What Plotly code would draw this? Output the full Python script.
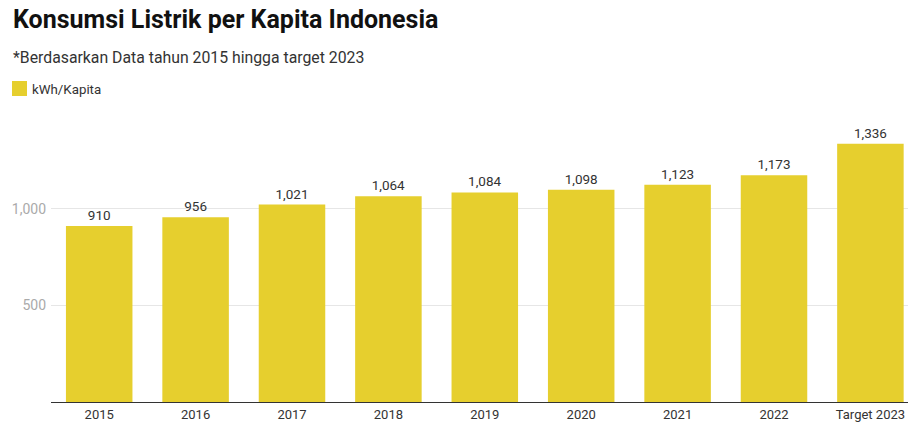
import plotly.graph_objects as go

categories = ["2015", "2016", "2017", "2018", "2019", "2020", "2021", "2022", "Target 2023"]
values = [910, 956, 1021, 1064, 1084, 1098, 1123, 1173, 1336]
series_name = "kWh/Kapita"
title = "Konsumsi Listrik per Kapita Indonesia"
subtitle = "*Berdasarkan Data tahun 2015 hingga target 2023"

W, H = 908, 423
ML, MR, MT, MB = 51, 0, 110, 21
PW, PH = W - ML - MR, H - MT - MB

def px(x):
    return (x - ML) / PW

def py(y):
    return (H - MB - y) / PH

color = "#e6cf2e"

fig = go.Figure()
fig.add_trace(go.Bar(
    x=categories, y=values, name=series_name,
    marker=dict(color=color, line=dict(width=0)),
    text=[f"{v:,}" for v in values], textposition="outside",
    textfont=dict(family="Roboto", size=13.5, color="#333333"),
    cliponaxis=False, showlegend=False,
))

fig.update_layout(
    width=W, height=H,
    margin=dict(l=ML, r=MR, t=MT, b=MB),
    plot_bgcolor="white", paper_bgcolor="white",
    bargap=0.31,
    font=dict(family="Roboto", color="#333333"),
    xaxis=dict(range=[-0.5, 8.39], showline=True, linecolor="#333333", linewidth=1,
               ticks="", tickfont=dict(size=13, color="#333333"), showgrid=False,
               fixedrange=True),
    yaxis=dict(range=[0, 1510], tickvals=[500, 1000], ticktext=["500", "1,000"],
               showgrid=True, gridcolor="#e6e6e6", gridwidth=1, zeroline=False,
               tickfont=dict(size=14, color="#aaaaaa"), ticks="", ticklabelstandoff=4,
               fixedrange=True),
    showlegend=False,
)

fig.add_annotation(text=f"<b>{title}</b>", xref="paper", yref="paper",
                   x=px(11), y=py(19), xanchor="left", yanchor="middle",
                   showarrow=False, font=dict(family="Roboto", size=25, color="#111111"))
fig.add_annotation(text=subtitle, xref="paper", yref="paper",
                   x=px(11), y=py(58), xanchor="left", yanchor="middle",
                   showarrow=False, font=dict(family="Roboto", size=15.8, color="#333333"))
fig.add_shape(type="rect", xref="paper", yref="paper",
              x0=px(12), x1=px(27), y0=py(96), y1=py(81),
              fillcolor=color, line=dict(width=0))
fig.add_annotation(text=series_name, xref="paper", yref="paper",
                   x=px(30), y=py(89), xanchor="left", yanchor="middle",
                   showarrow=False, font=dict(family="Roboto", size=13.3, color="#333333"))

fig.write_html("out.html")
